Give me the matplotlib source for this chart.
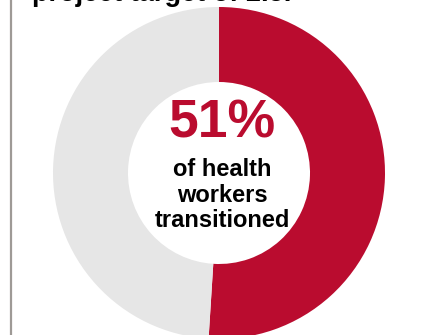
import matplotlib.pyplot as plt

# Share of health workers transitioned vs. remaining
labels = ['Transitioned', 'Remaining']
shares = [51, 49]
colors = ['#BA0C2F', '#E6E6E6']

headline = '51%'
caption = 'of health\nworkers\ntransitioned'
title_tail = 'project target of 2.5.'

plt.rcParams['font.family'] = ['Liberation Sans', 'DejaVu Sans']

W, H = 448, 335
fig = plt.figure(figsize=(W / 100, H / 100), dpi=100)
ax = fig.add_axes([0, 0, 1, 1])

# donut, clockwise from 12 o'clock
cx, cy = 219, H - 173
r_out, r_in = 166, 91
ax.pie(shares, colors=colors, startangle=90, counterclock=False,
       radius=r_out, center=(cx, cy),
       wedgeprops=dict(width=r_out - r_in, linewidth=0))

ax.set_xlim(0, W)
ax.set_ylim(0, H)
ax.set_aspect('equal')
ax.axis('off')

# left divider rule
ax.plot([11, 11], [0, H], color='#9E9A96', linewidth=1.6, solid_capstyle='butt')

# clipped title line at the top (only its lower part shows)
ax.text(32, H - 1.0, title_tail, fontsize=19.5, fontweight='bold',
        color='black', ha='left', va='baseline')

# centre labels
ax.text(222, H - 124, headline, fontsize=38.5, fontweight='bold',
        color=colors[0], ha='center', va='center')
ax.text(222, H - 195, caption, fontsize=17, fontweight='bold',
        color='black', ha='center', va='center', linespacing=1.16)

fig.savefig('out.png', dpi=100)
